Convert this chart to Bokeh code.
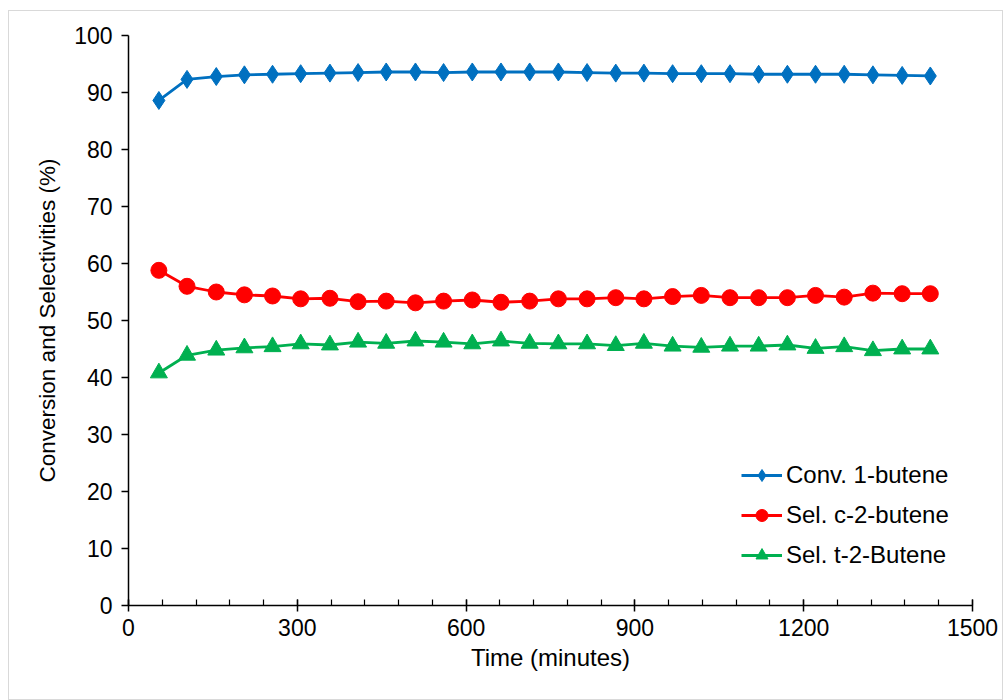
from bokeh.plotting import figure
from bokeh.models import Range1d, FixedTicker, Legend, LegendItem
from bokeh.embed import file_html
from bokeh.resources import INLINE

time_min = [54, 104, 156, 206, 256, 306, 358, 408, 458, 510, 560, 611, 662, 713,
            764, 815, 866, 916, 967, 1018, 1069, 1120, 1171, 1221, 1272, 1323, 1375, 1425]
conv_1_butene = [88.6, 92.3, 92.8, 93.1, 93.2, 93.3, 93.4, 93.5, 93.6, 93.6, 93.5, 93.6, 93.6, 93.6,
                 93.6, 93.5, 93.4, 93.4, 93.3, 93.3, 93.3, 93.2, 93.2, 93.2, 93.2, 93.1, 93.0, 92.9]
sel_c2_butene = [58.8, 56.0, 55.0, 54.5, 54.3, 53.8, 53.9, 53.3, 53.4, 53.1, 53.4, 53.6, 53.2, 53.4,
                 53.8, 53.8, 54.0, 53.8, 54.2, 54.4, 54.0, 54.0, 54.0, 54.4, 54.1, 54.8, 54.7, 54.7]
sel_t2_butene = [40.8, 43.9, 44.8, 45.2, 45.4, 45.9, 45.7, 46.2, 46.0, 46.4, 46.2, 45.9, 46.4, 46.0,
                 45.9, 45.9, 45.6, 46.0, 45.5, 45.3, 45.5, 45.5, 45.7, 45.1, 45.4, 44.7, 45.0, 45.0]
x_ticks = [0, 300, 600, 900, 1200, 1500]
x_minor = list(range(0, 1501, 60))
y_ticks = [0, 10, 20, 30, 40, 50, 60, 70, 80, 90, 100]

FONT = "Liberation Sans"

p = figure(width=995, height=690, output_backend="svg", toolbar_location=None,
           x_range=Range1d(0, 1500), y_range=Range1d(0, 100),
           min_border_left=119, min_border_right=32, min_border_top=24, min_border_bottom=96)
p.styles = {"border": "1px solid #d9d9d9", "margin-left": "8px", "margin-top": "10px"}
p.outline_line_color = None
p.border_fill_color = "white"
p.xgrid.visible = False
p.ygrid.visible = False

blue, red, green = "#0070C0", "#FF0000", "#00B050"
l1 = p.line(time_min, conv_1_butene, line_color=blue, line_width=2.8)
m1 = p.scatter(time_min, conv_1_butene, marker="diamond", size=18, fill_color=blue, line_color=blue)
l2 = p.line(time_min, sel_c2_butene, line_color=red, line_width=2.8)
m2 = p.scatter(time_min, sel_c2_butene, marker="circle", size=16, fill_color=red, line_color=red)
l3 = p.line(time_min, sel_t2_butene, line_color=green, line_width=2.8)
m3 = p.scatter(time_min, sel_t2_butene, marker="triangle", size=17, fill_color=green, line_color=green)

for ax in (p.xaxis[0], p.yaxis[0]):
    ax.axis_line_color = "black"
    ax.axis_line_width = 1.5
    ax.major_tick_line_color = "black"
    ax.major_tick_line_width = 1.5
    ax.minor_tick_line_color = "black"
    ax.minor_tick_line_width = 1.2
    ax.major_label_text_font = FONT
    ax.major_label_text_font_size = "23px"
    ax.major_label_text_color = "black"
    ax.axis_label_text_font = FONT
    ax.axis_label_text_font_style = "normal"
    ax.axis_label_text_color = "black"

p.xaxis.ticker = FixedTicker(ticks=x_ticks, minor_ticks=x_minor)
p.xaxis.major_tick_in = 6
p.xaxis.major_tick_out = 6
p.xaxis.minor_tick_in = 6
p.xaxis.minor_tick_out = 0
p.xaxis.major_label_standoff = 7
p.xaxis.axis_label = "Time (minutes)"
p.xaxis.axis_label_text_font_size = "24px"
p.xaxis.axis_label_standoff = 5

p.yaxis.ticker = FixedTicker(ticks=y_ticks, minor_ticks=[])
p.yaxis.major_tick_in = 0
p.yaxis.major_tick_out = 7
p.yaxis.major_label_standoff = 9
p.yaxis.axis_label = "Conversion and Selectivities (%)"
p.yaxis.axis_label_text_font_size = "22.5px"
p.yaxis.axis_label_standoff = 11

legend = Legend(items=[
    LegendItem(label="Conv. 1-butene", renderers=[l1, m1]),
    LegendItem(label="Sel. c-2-butene", renderers=[l2, m2]),
    LegendItem(label="Sel. t-2-Butene", renderers=[l3, m3]),
], location=(613, 35))
legend.label_text_font = FONT
legend.label_text_font_size = "24px"
legend.label_text_color = "black"
legend.glyph_width = 41
legend.glyph_height = 30
legend.spacing = 10
legend.label_standoff = 4
legend.padding = 10
legend.border_line_color = None
legend.background_fill_alpha = 0
p.add_layout(legend)

open("out.html", "w").write(file_html(p, INLINE))
